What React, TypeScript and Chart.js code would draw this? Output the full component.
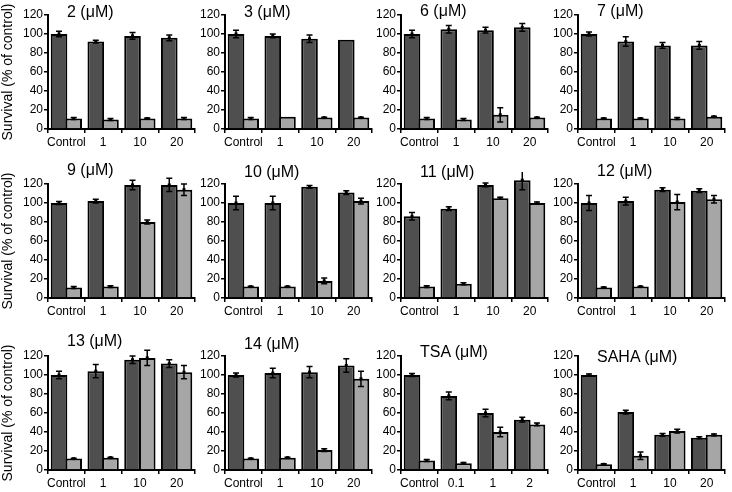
import React, { useEffect, useRef } from "react";
import { Chart, registerables } from "chart.js";
Chart.register(...registerables);

// ---------- DATA ----------
const dosesStd = ["Control", "1", "10", "20"];
const dosesTSA = ["Control", "0.1", "1", "2"];
const yTicks = [0, 20, 40, 60, 80, 100, 120];

const c2Dark = [100, 92, 98, 96];
const c2DarkErr = [3, 1.5, 3.5, 3];
const c2Light = [11, 10, 11, 11];
const c2LightErr = [1, 1, 0.5, 1];

const c3Dark = [100, 98, 95, 94];
const c3DarkErr = [4, 2, 4, 0];
const c3Light = [11, 13, 12, 12];
const c3LightErr = [1, 0, 0.5, 0.5];

const c6Dark = [100, 105, 104, 107];
const c6DarkErr = [4, 4, 3, 4];
const c6Light = [11, 10, 15, 12];
const c6LightErr = [1, 1, 7.5, 0.5];

const c7Dark = [100, 92, 88, 88];
const c7DarkErr = [2, 5, 3, 4];
const c7Light = [11, 11, 11, 13];
const c7LightErr = [0.5, 0.5, 1, 0.5];

const c9Dark = [100, 102, 119, 119];
const c9DarkErr = [1.5, 2, 5, 7];
const c9Light = [11, 12, 80, 114];
const c9LightErr = [1, 1, 2, 6];

const c10Dark = [100, 100, 117, 111];
const c10DarkErr = [7, 7, 1.5, 2];
const c10Light = [12, 12, 18, 102];
const c10LightErr = [0.5, 0.5, 3, 3];

const c11Dark = [86, 94, 119, 124];
const c11DarkErr = [4, 2, 2, 10];
const c11Light = [12, 15, 105, 100];
const c11LightErr = [1, 1, 1, 1];

const c12Dark = [100, 102, 114, 113];
const c12DarkErr = [8, 4, 2, 2];
const c12Light = [11, 12, 101, 104];
const c12LightErr = [0.5, 0.5, 8, 4];

const c13Dark = [100, 104, 116, 112];
const c13DarkErr = [4, 7, 4, 4];
const c13Light = [12, 13, 118, 103];
const c13LightErr = [0.5, 0.5, 8, 7];

const c14Dark = [100, 102, 103, 110];
const c14DarkErr = [2, 5, 6, 7];
const c14Light = [12, 13, 21, 96];
const c14LightErr = [0.5, 0.5, 1.5, 8];

const tsaDark = [100, 78, 60, 53];
const tsaDarkErr = [1.5, 4, 4, 2.5];
const tsaLight = [10, 7, 40, 48];
const tsaLightErr = [1, 1, 5, 1.5];

const sahaDark = [100, 61, 37, 34];
const sahaDarkErr = [1, 2, 1.5, 1];
const sahaLight = [6, 15, 41, 37];
const sahaLightErr = [0.5, 4, 2, 1];

const panelTitles = ["2 (μM)", "3 (μM)", "6 (μM)", "7 (μM)", "9 (μM)", "10 (μM)", "11 (μM)", "12 (μM)", "13 (μM)", "14 (μM)", "TSA (μM)", "SAHA (μM)"];
const yAxisTitle = "Survival (% of control)";

const panels = [
  { labels: dosesStd, dark: c2Dark, darkErr: c2DarkErr, light: c2Light, lightErr: c2LightErr },
  { labels: dosesStd, dark: c3Dark, darkErr: c3DarkErr, light: c3Light, lightErr: c3LightErr },
  { labels: dosesStd, dark: c6Dark, darkErr: c6DarkErr, light: c6Light, lightErr: c6LightErr },
  { labels: dosesStd, dark: c7Dark, darkErr: c7DarkErr, light: c7Light, lightErr: c7LightErr },
  { labels: dosesStd, dark: c9Dark, darkErr: c9DarkErr, light: c9Light, lightErr: c9LightErr },
  { labels: dosesStd, dark: c10Dark, darkErr: c10DarkErr, light: c10Light, lightErr: c10LightErr },
  { labels: dosesStd, dark: c11Dark, darkErr: c11DarkErr, light: c11Light, lightErr: c11LightErr },
  { labels: dosesStd, dark: c12Dark, darkErr: c12DarkErr, light: c12Light, lightErr: c12LightErr },
  { labels: dosesStd, dark: c13Dark, darkErr: c13DarkErr, light: c13Light, lightErr: c13LightErr },
  { labels: dosesStd, dark: c14Dark, darkErr: c14DarkErr, light: c14Light, lightErr: c14LightErr },
  { labels: dosesTSA, dark: tsaDark, darkErr: tsaDarkErr, light: tsaLight, lightErr: tsaLightErr },
  { labels: dosesStd, dark: sahaDark, darkErr: sahaDarkErr, light: sahaLight, lightErr: sahaLightErr },
];

// ---------- LAYOUT / STYLE ----------
const FONT = "'Liberation Sans', Arial, Helvetica, sans-serif";
const DARK = "#4f4f4f";
const LIGHT = "#a6a6a6";
const colX = [48, 225, 401, 578];
const rowTop = [15, 184, 356];
const rowBottom = [129, 298, 470];
const titleCY = [12, 12, 11, 11, 170, 172, 172, 171, 341, 344, 352, 357];
const PLOT_W = 147;
const PAD_T = 12;
const X_H = 24;

const errorBarPlugin = {
  id: "errbars",
  afterDatasetsDraw(chart: any) {
    const ctx = chart.ctx;
    const y = chart.scales.y;
    chart.data.datasets.forEach((ds: any, di: number) => {
      const meta = chart.getDatasetMeta(di);
      const errs = ds.errors;
      if (!errs) return;
      meta.data.forEach((bar: any, i: number) => {
        const e = errs[i];
        if (!e) return;
        const v = ds.data[i];
        const x = bar.x;
        const yT = y.getPixelForValue(v + e);
        const yB = y.getPixelForValue(v - e);
        const yM = y.getPixelForValue(v);
        ctx.save();
        ctx.strokeStyle = "#000";
        ctx.lineWidth = 1.5;
        ctx.beginPath();
        ctx.moveTo(x, yT);
        ctx.lineTo(x, yB);
        ctx.moveTo(x - 3, yT);
        ctx.lineTo(x + 3, yT);
        ctx.moveTo(x - 3, yB);
        ctx.lineTo(x + 3, yB);
        ctx.stroke();
        ctx.fillStyle = "#000";
        ctx.fillRect(x - 1.5, yM - 1.5, 3, 3);
        ctx.restore();
      });
    });
  },
};

function Panel({ idx }: { idx: number }) {
  const ref = useRef<HTMLCanvasElement>(null);
  const col = idx % 4;
  const row = Math.floor(idx / 4);
  const yW = col === 0 ? 48 : 38;
  const left = colX[col] - yW;
  const top = rowTop[row] - PAD_T;
  const w = yW + PLOT_W + 1;
  const h = rowBottom[row] - rowTop[row] + PAD_T + X_H;
  const p = panels[idx];

  useEffect(() => {
    const tickFont = { family: FONT, size: 12 };
    const chart = new Chart(ref.current as HTMLCanvasElement, {
      type: "bar",
      data: {
        labels: p.labels,
        datasets: [
          {
            data: p.dark,
            errors: p.darkErr,
            backgroundColor: DARK,
            borderColor: "#000",
            borderWidth: 2,
            barPercentage: 1.13,
            categoryPercentage: 0.8,
            clip: false,
          } as any,
          {
            data: p.light,
            errors: p.lightErr,
            backgroundColor: LIGHT,
            borderColor: "#000",
            borderWidth: 2,
            barPercentage: 1.13,
            categoryPercentage: 0.8,
            clip: false,
          } as any,
        ],
      },
      options: {
        animation: false,
        responsive: false,
        maintainAspectRatio: false,
        layout: { padding: { top: PAD_T, right: 1, bottom: 0, left: 0 } },
        plugins: { legend: { display: false }, tooltip: { enabled: false } },
        scales: {
          x: {
            grid: { offset: true, drawOnChartArea: false, drawTicks: true, tickLength: 4, color: "#000", lineWidth: 1.5 },
            border: { color: "#000", width: 2 },
            ticks: { color: "#000", font: tickFont, padding: 2, maxRotation: 0, autoSkip: false },
            afterFit: (s: any) => {
              s.height = X_H;
            },
          },
          y: {
            min: yTicks[0],
            max: yTicks[yTicks.length - 1],
            afterBuildTicks: (s: any) => {
              s.ticks = yTicks.map((v) => ({ value: v }));
            },
            grid: { drawOnChartArea: false, drawTicks: true, tickLength: 4, color: "#000", lineWidth: 1.5 },
            border: { color: "#000", width: 2 },
            ticks: { color: "#000", font: tickFont, padding: 1 },
            title: {
              display: col === 0,
              text: yAxisTitle,
              color: "#000",
              font: { family: FONT, size: 14 },
              padding: 0,
            },
            afterFit: (s: any) => {
              s.width = yW;
            },
          },
        },
      } as any,
      plugins: [errorBarPlugin],
    });
    return () => chart.destroy();
  }, []);

  return (
    <>
      <canvas
        ref={ref}
        width={w}
        height={h}
        style={{ position: "absolute", left, top, width: w, height: h }}
      />
      <div
        style={{
          position: "absolute",
          left: colX[col] + 19,
          top: titleCY[idx] - 9,
          font: `16px ${FONT}`,
          lineHeight: "18px",
          whiteSpace: "nowrap",
          color: "#000",
        }}
      >
        {panelTitles[idx]}
      </div>
    </>
  );
}

export default function App() {
  useEffect(() => {
    document.body.style.margin = "0";
  }, []);
  return (
    <div style={{ position: "relative", width: 732, height: 492, background: "#fff", overflow: "hidden" }}>
      {panels.map((_, i) => (
        <Panel key={i} idx={i} />
      ))}
    </div>
  );
}
